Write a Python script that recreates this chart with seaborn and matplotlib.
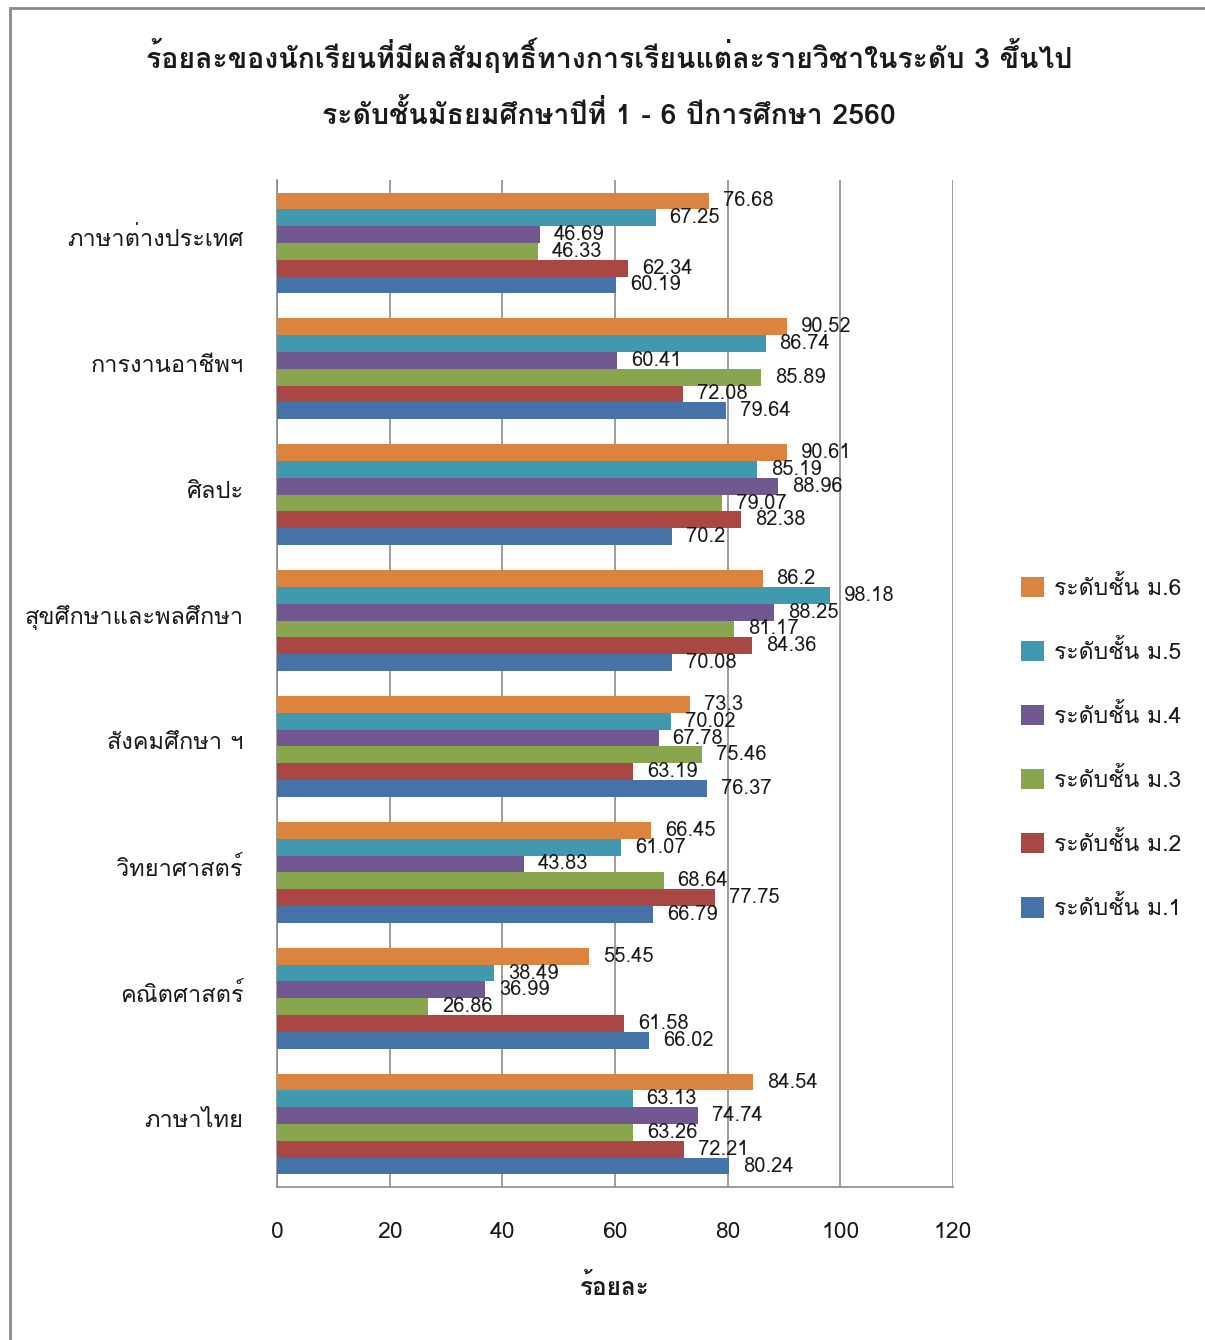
import matplotlib
matplotlib.use("Agg")
import matplotlib.pyplot as plt
import matplotlib.transforms as mtransforms
from matplotlib.patches import Rectangle, Patch
import seaborn as sns
import pandas as pd

# ---------------- data ----------------
subjects = ["ภาษาต่างประเทศ", "การงานอาชีพฯ", "ศิลปะ", "สุขศึกษาและพลศึกษา",
            "สังคมศึกษา ฯ", "วิทยาศาสตร์", "คณิตศาสตร์", "ภาษาไทย"]
levels = ["ระดับชั้น ม.6", "ระดับชั้น ม.5", "ระดับชั้น ม.4",
          "ระดับชั้น ม.3", "ระดับชั้น ม.2", "ระดับชั้น ม.1"]
m6 = [76.68, 90.52, 90.61, 86.2, 73.3, 66.45, 55.45, 84.54]
m5 = [67.25, 86.74, 85.19, 98.18, 70.02, 61.07, 38.49, 63.13]
m4 = [46.69, 60.41, 88.96, 88.25, 67.78, 43.83, 36.99, 74.74]
m3 = [46.33, 85.89, 79.07, 81.17, 75.46, 68.64, 26.86, 63.26]
m2 = [62.34, 72.08, 82.38, 84.36, 63.19, 77.75, 61.58, 72.21]
m1 = [60.19, 79.64, 70.2, 70.08, 76.37, 66.79, 66.02, 80.24]
series = [m6, m5, m4, m3, m2, m1]
colors = ["#DC843E", "#4199B0", "#715891", "#89A54E", "#AA4644", "#4572A7"]
x_ticks = [0, 20, 40, 60, 80, 100, 120]
title_1 = "ร้อยละของนักเรียนที่มีผลสัมฤทธิ์ทางการเรียนแต่ละรายวิชาในระดับ 3 ขึ้นไป"
title_2 = "ระดับชั้นมัธยมศึกษาปีที่ 1 - 6 ปีการศึกษา 2560"
xlabel = "ร้อยละ"

rows = []
for lv, vals in zip(levels, series):
    for s, v in zip(subjects, vals):
        rows.append({"subject": s, "level": lv, "value": v})
df = pd.DataFrame(rows)

# ---------------- style ----------------
sns.set_theme(style="white")
FAM = ["Loma", "Noto Sans Thai Looped", "DejaVu Sans"]
plt.rcParams["font.family"] = FAM
TXT = "#1a1a1a"
GRID = "#8c8c8c"

W, H = 1205, 1340
fig = plt.figure(figsize=(W / 100, H / 100), dpi=100)
ax = fig.add_axes([277 / W, 1 - 1187 / H, (953 - 277) / W, (1187 - 180) / H])

sns.barplot(data=df, y="subject", x="value", hue="level", order=subjects,
            hue_order=levels, palette=colors, orient="h", width=0.8,
            saturation=1, ax=ax, legend=False, edgecolor="none", zorder=3)

for cont in ax.containers:
    ax.bar_label(cont, labels=[f"{v:g}" for v in cont.datavalues], padding=10,
                 fontsize=14.5, color=TXT)

ax.set_xlim(0, 120)
ax.set_ylim(7.5, -0.5)
ax.set_xticks(x_ticks)
ax.set_xticklabels([str(t) for t in x_ticks])
ax.set_xlabel("")
ax.set_ylabel("")
ax.grid(axis="x", color=GRID, linewidth=1.2, zorder=0)
ax.grid(axis="y", visible=False)
for side in ["top", "right"]:
    ax.spines[side].set_visible(False)
for side in ["left", "bottom"]:
    ax.spines[side].set_color(GRID)
    ax.spines[side].set_linewidth(1.2)
ax.tick_params(axis="x", length=0, pad=25, labelsize=16.5, labelcolor=TXT)
ax.tick_params(axis="y", length=0, pad=24, labelsize=17, labelcolor=TXT)

# nudge category labels slightly upward as in the reference
shift = mtransforms.ScaledTranslation(0, 6 / 100, fig.dpi_scale_trans)
for lab in ax.get_yticklabels():
    lab.set_transform(lab.get_transform() + shift)

# legend
handles = [Patch(facecolor=c, edgecolor="none", label=l) for c, l in zip(colors, levels)]
fig.legend(handles=handles, loc="upper left", bbox_to_anchor=(1000 / W, 1 - 555 / H),
           frameon=False, fontsize=16.5, handlelength=1.0, handleheight=1.0,
           labelspacing=1.75, handletextpad=0.45, labelcolor=TXT)

# titles
fig.text(609 / W, 1 - 55 / H, title_1, ha="center", va="center", fontsize=20.5,
         fontweight="bold", color=TXT)
fig.text(609 / W, 1 - 114 / H, title_2, ha="center", va="center", fontsize=20.5,
         fontweight="bold", color=TXT)
fig.text(615 / W, 1 - 1287 / H, xlabel, ha="center", va="center", fontsize=17.5,
         fontweight="bold", color=TXT)

# outer frame
fig.patches.append(Rectangle((10 / W, -0.05), 1.2, 1 - 8 / H + 0.05,
                             transform=fig.transFigure, fill=False,
                             edgecolor="#8a8a8a", linewidth=2))

fig.savefig("out.png", dpi=100)
